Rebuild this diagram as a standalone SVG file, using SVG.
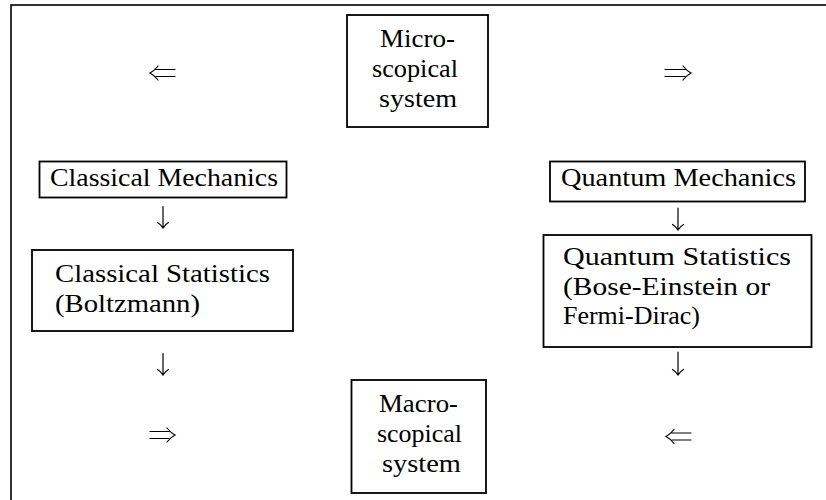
<svg xmlns="http://www.w3.org/2000/svg" width="826" height="500" viewBox="0 0 826 500">
<defs>
<style>
.box{fill:#fff;stroke:#000;stroke-width:1.8}
.t{font-family:"Liberation Serif","Times New Roman",serif;font-size:26px;fill:#000}
.arr{fill:none;stroke:#000;stroke-width:1.2;stroke-linecap:round}
</style>
</defs>
<rect x="11" y="5" width="900" height="600" fill="#fff" stroke="#000" stroke-width="1.6"/>
<g id="micro">
<rect class="box" x="347" y="15" width="141" height="112"/>
<text class="t" x="380" y="47" textLength="75" lengthAdjust="spacingAndGlyphs">Micro-</text>
<text class="t" x="372" y="77" textLength="86" lengthAdjust="spacingAndGlyphs">scopical</text>
<text class="t" x="379" y="107" textLength="78" lengthAdjust="spacingAndGlyphs">system</text>
</g>
<g id="classical-mechanics">
<rect class="box" x="39.5" y="161.5" width="247" height="36"/>
<text class="t" x="50" y="186" textLength="228" lengthAdjust="spacingAndGlyphs">Classical Mechanics</text>
</g>
<g id="quantum-mechanics">
<rect class="box" x="550" y="161.5" width="255" height="40"/>
<text class="t" x="561" y="186" textLength="235" lengthAdjust="spacingAndGlyphs">Quantum Mechanics</text>
</g>
<g id="classical-statistics">
<rect class="box" x="32" y="250" width="261" height="81"/>
<text class="t" x="55" y="282" textLength="215" lengthAdjust="spacingAndGlyphs">Classical Statistics</text>
<text class="t" x="55" y="312" textLength="145" lengthAdjust="spacingAndGlyphs">(Boltzmann)</text>
</g>
<g id="quantum-statistics">
<rect class="box" x="543.5" y="235" width="268" height="112"/>
<text class="t" x="563" y="265" textLength="228" lengthAdjust="spacingAndGlyphs">Quantum Statistics</text>
<text class="t" x="563" y="295" textLength="207" lengthAdjust="spacingAndGlyphs">(Bose-Einstein or</text>
<text class="t" x="563" y="324" textLength="137" lengthAdjust="spacingAndGlyphs">Fermi-Dirac)</text>
</g>
<g id="macro">
<rect class="box" x="351.5" y="380" width="134.5" height="113"/>
<text class="t" x="379" y="412" textLength="79" lengthAdjust="spacingAndGlyphs">Macro-</text>
<text class="t" x="377" y="442" textLength="85" lengthAdjust="spacingAndGlyphs">scopical</text>
<text class="t" x="382" y="472" textLength="79" lengthAdjust="spacingAndGlyphs">system</text>
</g>
<g id="connectors">
<path class="arr" d="M156,69.5 H175 M156,76.5 H175 M158,66 Q154,71 150,73 Q154,75 158,80"/>
<path class="arr" d="M665,69.5 H685 M665,76.5 H685 M683,66 Q687,71 691,73 Q687,75 683,80"/>
<path class="arr" d="M150,431.5 H169 M150,438.5 H169 M167,428 Q171,433 175,435 Q171,437 167,442"/>
<path class="arr" d="M672,433 H691 M672,440 H691 M674,429.5 Q670,434.5 666,436.5 Q670,438.5 674,443.5"/>
<path class="arr" d="M163,206.5 V228 M157.5,222.5 Q161,224.5 163,228 Q165,224.5 168.5,222.5"/>
<path class="arr" d="M678,208 V230 M672.5,224.5 Q676,226.5 678,230 Q680,226.5 683.5,224.5"/>
<path class="arr" d="M163,353.5 V375 M157.5,369.5 Q161,371.5 163,375 Q165,371.5 168.5,369.5"/>
<path class="arr" d="M678,352 V375 M672.5,369.5 Q676,371.5 678,375 Q680,371.5 683.5,369.5"/>
</g>
</svg>
